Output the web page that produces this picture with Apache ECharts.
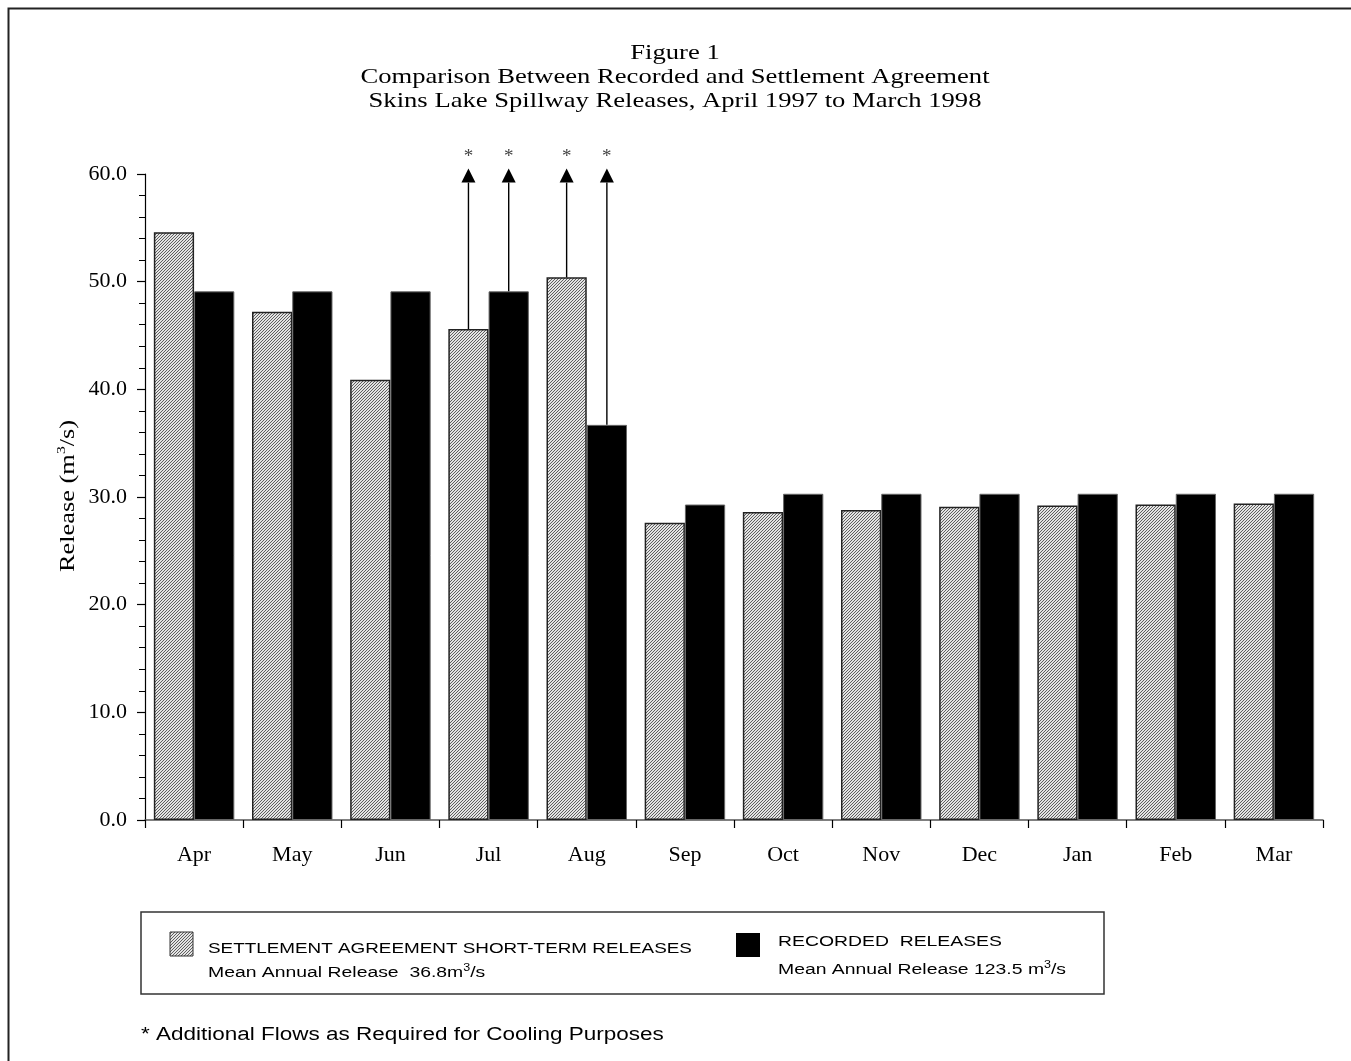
<!DOCTYPE html>
<html>
<head>
<meta charset="utf-8">
<script src="https://cdn.jsdelivr.net/npm/echarts@6/dist/echarts.min.js"></script>
<style>
html,body{margin:0;padding:0;background:#fff;}
#chart{width:1351px;height:1061px;}
</style>
</head>
<body>
<div id="chart"></div>
<script>
const categories = ['Apr','May','Jun','Jul','Aug','Sep','Oct','Nov','Dec','Jan','Feb','Mar'];
const settlementValues = [54.6, 47.2, 40.9, 45.6, 50.4, 27.6, 28.6, 28.8, 29.1, 29.2, 29.3, 29.4];
const recordedValues = [49.1, 49.1, 49.1, 49.1, 36.7, 29.3, 30.3, 30.3, 30.3, 30.3, 30.3, 30.3];
const yTickValues = [0, 10, 20, 30, 40, 50, 60];
// arrows: category index, side (-1 settlement, +1 recorded), start value
const arrowCats = [3, 3, 4, 4];
const arrowSides = [-1, 1, -1, 1];
const arrowStarts = [45.6, 49.1, 50.4, 36.7];
const titleLines = ['Figure 1', 'Comparison Between Recorded and Settlement Agreement', 'Skins Lake Spillway Releases, April 1997 to March 1998'];

const serif = '"Liberation Serif", "DejaVu Serif", serif';
const sans = '"Liberation Sans", Arial, sans-serif';
const SX = 1.25;

function makeHatch() {
  const c = document.createElement('canvas');
  c.width = 3; c.height = 3;
  const ctx = c.getContext('2d');
  const img = ctx.createImageData(3, 3);
  for (let y = 0; y < 3; y++) {
    for (let x = 0; x < 3; x++) {
      const i = (y * 3 + x) * 4;
      const dark = (x + y) === 2;
      const v = dark ? 95 : 228;
      img.data[i] = v; img.data[i+1] = v; img.data[i+2] = v; img.data[i+3] = 255;
    }
  }
  ctx.putImageData(img, 0, 0);
  return c;
}
const hatch = { image: makeHatch(), repeat: 'repeat' };

const arrowData = arrowCats.map((c, i) => [c, arrowSides[i], arrowStarts[i]]);

const supRich = {
  a: { fontFamily: sans, fontSize: 15.5, fill: '#000', lineHeight: 18, verticalAlign: 'bottom' },
  s: { fontFamily: sans, fontSize: 10, fill: '#000', lineHeight: 10, verticalAlign: 'top' }
};

const chart = echarts.init(document.getElementById('chart'), null, { renderer: 'canvas' });

chart.setOption({
  animation: false,
  backgroundColor: '#fff',
  grid: { left: 145, right: 28, top: 174, bottom: 241, containLabel: false },
  xAxis: {
    type: 'category',
    data: categories,
    boundaryGap: true,
    axisLine: { lineStyle: { color: '#555', width: 1.5 } },
    axisTick: { show: true, length: 8, lineStyle: { color: '#000', width: 1.2 } },
    axisLabel: { fontFamily: serif, fontSize: 22, color: '#000', margin: 24 }
  },
  yAxis: {
    type: 'value',
    min: 0, max: 60, interval: 10,
    axisLine: { show: true, lineStyle: { color: '#000', width: 1.2 } },
    axisTick: { show: true, length: 8, lineStyle: { color: '#000', width: 1.2 } },
    minorTick: { show: true, splitNumber: 5, length: 6, lineStyle: { color: '#000', width: 1 } },
    splitLine: { show: false },
    axisLabel: {
      fontFamily: serif, fontSize: 22, color: '#000', margin: 18,
      formatter: v => yTickValues.includes(v) ? v.toFixed(1) : ''
    }
  },
  series: [
    {
      name: 'SETTLEMENT AGREEMENT SHORT-TERM RELEASES',
      type: 'bar',
      data: settlementValues,
      barWidth: '41%',
      barGap: '0%',
      itemStyle: { color: hatch, borderColor: '#222', borderWidth: 1.5 }
    },
    {
      name: 'RECORDED RELEASES',
      type: 'bar',
      data: recordedValues,
      barWidth: '41%',
      barGap: '0%',
      itemStyle: { color: '#000', borderColor: '#666', borderWidth: 1 }
    },
    {
      name: 'arrows',
      type: 'custom',
      clip: false,
      z: 5,
      data: arrowData,
      encode: { x: 0, y: 2 },
      renderItem: function (params, api) {
        const cat = api.value(0), side = api.value(1), start = api.value(2);
        const band = api.size([1, 0])[0];
        const p = api.coord([cat, start]);
        const x = p[0] + side * band * 0.205;
        const yStart = p[1];
        const yBase = api.coord([cat, 59.2])[1];
        const yTip = api.coord([cat, 60.5])[1];
        const yStar = api.coord([cat, 61.6])[1];
        return {
          type: 'group',
          children: [
            { type: 'line', shape: { x1: x, y1: yStart, x2: x, y2: yBase }, style: { stroke: '#000', lineWidth: 1.4 } },
            { type: 'polygon', shape: { points: [[x - 7, yBase], [x + 7, yBase], [x, yTip]] }, style: { fill: '#000' } },
            { type: 'text', x: x, y: yStar, style: { text: '*', fontFamily: serif, fontSize: 19, fill: '#444', align: 'center', verticalAlign: 'middle' } }
          ]
        };
      }
    }
  ],
  graphic: [
    { type: 'polyline', shape: { points: [[8.5, 1061], [8.5, 8.5], [1351, 8.5]] }, style: { stroke: '#222', lineWidth: 2, fill: null } },
    { type: 'text', x: 675, y: 41, scaleX: 1.21, style: {
      text: titleLines.join('\n'), fontFamily: serif, fontSize: 22, fill: '#000',
      align: 'center', verticalAlign: 'top', lineHeight: 24
    } },
    { type: 'text', x: 67, y: 496, rotation: Math.PI / 2, scaleX: 1.2, style: {
      text: '{a|Release (m}{s|3}{a|/s)}', align: 'center', verticalAlign: 'middle',
      rich: {
        a: { fontFamily: serif, fontSize: 22, fill: '#000', lineHeight: 24, verticalAlign: 'bottom' },
        s: { fontFamily: serif, fontSize: 13, fill: '#000', lineHeight: 13, verticalAlign: 'top' }
      }
    } },
    { type: 'rect', shape: { x: 141, y: 912, width: 963, height: 82 }, style: { stroke: '#333', lineWidth: 1.5, fill: '#fff' } },
    { type: 'rect', shape: { x: 170, y: 932, width: 23, height: 24 }, style: { fill: hatch, stroke: '#333', lineWidth: 1 } },
    { type: 'text', x: 208, y: 948.5, scaleX: 1.217, style: { text: 'SETTLEMENT AGREEMENT SHORT-TERM RELEASES', fontFamily: sans, fontSize: 15.5, fill: '#000', verticalAlign: 'middle' } },
    { type: 'text', x: 208, y: 972, scaleX: SX, style: { text: '{a|Mean Annual Release  36.8m}{s|3}{a|/s}', verticalAlign: 'middle', rich: supRich } },
    { type: 'rect', shape: { x: 736, y: 933, width: 24, height: 24 }, style: { fill: '#000' } },
    { type: 'text', x: 778, y: 942, scaleX: SX, style: { text: 'RECORDED  RELEASES', fontFamily: sans, fontSize: 15.5, fill: '#000', verticalAlign: 'middle' } },
    { type: 'text', x: 778, y: 969, scaleX: SX, style: { text: '{a|Mean Annual Release 123.5 m}{s|3}{a|/s}', verticalAlign: 'middle', rich: supRich } },
    { type: 'text', x: 141, y: 1035, scaleX: SX, style: { text: '* Additional Flows as Required for Cooling Purposes', fontFamily: sans, fontSize: 18, fill: '#000', verticalAlign: 'middle' } }
  ]
});
</script>
</body>
</html>
